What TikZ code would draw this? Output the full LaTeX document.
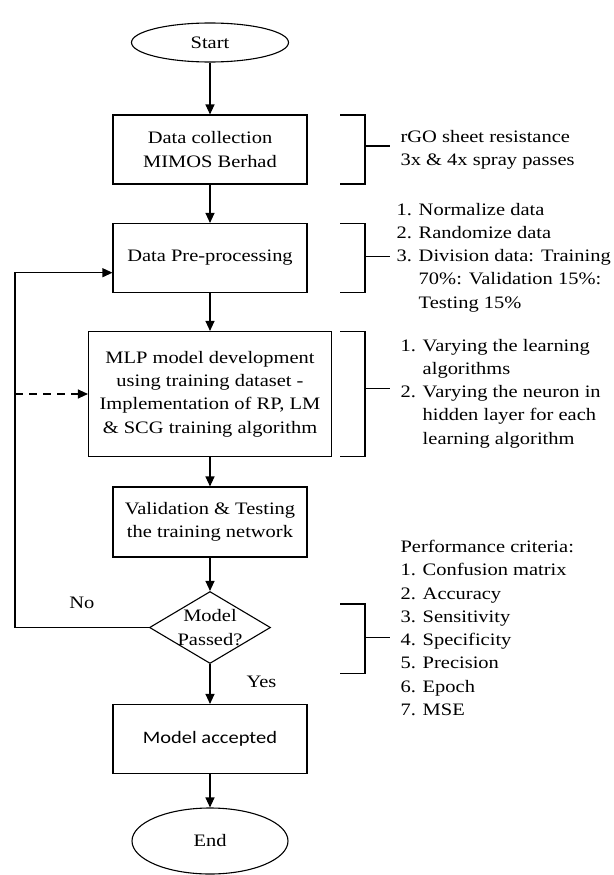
\documentclass[tikz,border=0pt]{standalone}
\usepackage{fontspec}
\setmainfont{Liberation Serif}[FakeStretch=1.17]
\newfontfamily\calibri{Carlito}[FakeStretch=1.17]
\usetikzlibrary{shapes.geometric,arrows.meta}

\begin{document}
\begin{tikzpicture}[x=1pt, y=-1pt, ->, >={Triangle[length=10pt,width=9pt]}, line width=1.1pt,
    font=\fontsize{17.5}{23.3}\selectfont,
    box/.style={draw, rectangle, minimum width=194pt, minimum height=69pt, align=center, inner sep=0pt},
    term/.style={draw, ellipse, minimum width=157pt, minimum height=39pt, inner sep=0pt},
    decision/.style={draw, diamond, minimum width=121pt, minimum height=72pt, inner sep=0pt},
    note/.style={draw=none, align=left, anchor=west, inner xsep=10pt, inner ysep=0pt}]
    \useasboundingbox (0,0) rectangle (613,875);

    \node[term] (1) at (210,42.5) {Start};
    \node[box] (2) at (210,149.5) {Data collection\\MIMOS Berhad};
    \node[box] (3) at (210,258) {Data Pre-processing};
    \node[box, minimum width=243pt, minimum height=125pt] (4) at (210,394) {MLP model development\\using training dataset -\\Implementation of RP, LM\\\& SCG training algorithm};
    \node[box, minimum height=70pt] (5) at (210,522) {Validation \& Testing\\the training network};
    \node[decision, label={[align=center]center:Model\\Passed?}] (6) at (210,627.5) {};
    \node[box, font=\calibri\fontsize{17.5}{23.3}\selectfont] (7) at (210,739) {Model accepted};
    \node[term, minimum width=156pt, minimum height=66pt] (8) at (210,841) {End};

    \node[note] (n1) at (390,150) {rGO sheet resistance\\3x \& 4x spray passes};
    \node[note, inner xsep=6pt] (n2) at (390,257.5) {1. Normalize data\\2. Randomize data\\3. Division data: Training\\\phantom{3. }70\%: Validation 15\%:\\\phantom{3. }Testing 15\%};
    \node[note] (n3) at (390,393.5) {1. Varying the learning\\\phantom{1. }algorithms\\2. Varying the neuron in\\\phantom{2. }hidden layer for each\\\phantom{2. }learning algorithm};
    \node[note] (n4) at (390,628) {Performance criteria:\\1. Confusion matrix\\2. Accuracy\\3. Sensitivity\\4. Specificity\\5. Precision\\6. Epoch\\7. MSE};

    \path (1) edge (2)
          (2) edge (3)
          (3) edge (4)
          (4) edge (5)
          (5) edge (6)
          (6) edge node[note, pos=0.45, xshift=26pt] {Yes} (7) % Yes
          (7) edge (8);

    \coordinate (c) at (15,272.7);
    \draw (6.west) -| node[note, pos=0.25, anchor=south, yshift=18pt] {No} (c) -- (c -| 3.west); % No
    \draw[dashed, dash pattern=on 8pt off 6pt] (c |- 4.west) -- (4.west);

    \draw[-] (340,115) -- (365,115) -- (365,184) -- (340,184) (365,146) -- (390,146);
    \draw[-] (340,223.3) -- (365,223.3) -- (365,292.7) -- (340,292.7) (365,256.7) -- (390,256.7);
    \draw[-] (340,331.7) -- (365,331.7) -- (365,456.7) -- (340,456.7) (365,388.3) -- (390,388.3);
    \draw[-] (340,604) -- (365,604) -- (365,673.3) -- (340,673.3) (365,637.3) -- (390,637.3);
\end{tikzpicture}
\end{document}
